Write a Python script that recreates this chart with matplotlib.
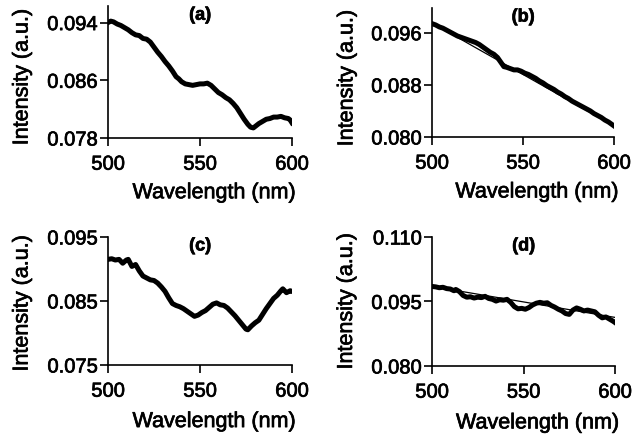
import matplotlib
matplotlib.use("Agg")
import matplotlib.pyplot as plt
import matplotlib.patheffects as pe
from matplotlib.text import Text

plt.rcParams["font.family"] = ["Liberation Sans", "DejaVu Sans"]

# Spectra (wavelength in nm, intensity in a.u.)
wl_a = [500, 501.5, 503, 505, 507, 509, 511, 513, 515, 517, 519, 521, 523, 525, 527,
        529, 531, 533, 535, 537, 538.5, 540, 542, 544, 546, 548, 550, 552, 554, 556,
        558, 560, 562, 564, 566, 568, 570, 572, 574, 576, 577.5, 579, 580.5, 582, 584,
        586, 588, 590, 592, 594, 596, 598, 599, 600]
int_a = [0.0940, 0.0942, 0.0941, 0.0938, 0.0936, 0.0933, 0.0930, 0.0926, 0.0923, 0.0922,
         0.0918, 0.0917, 0.0913, 0.0906, 0.0899, 0.0893, 0.0886, 0.0880, 0.0873, 0.0865,
         0.0862, 0.0858, 0.0855, 0.0854, 0.0853, 0.0854, 0.0855, 0.0855, 0.0856, 0.0853,
         0.0848, 0.0843, 0.0840, 0.0836, 0.0833, 0.0828, 0.0822, 0.0814, 0.0806, 0.0799,
         0.0795, 0.0794, 0.0797, 0.0800, 0.0803, 0.0806, 0.0807, 0.0809, 0.0809, 0.0810,
         0.0808, 0.0807, 0.0805, 0.0801]

wl_b = [500, 502, 504, 506, 508, 510, 512, 514, 516, 518, 520, 522, 524, 526, 528, 530,
        532, 534, 536, 538, 539.5, 541, 543, 545, 547, 549, 551, 553, 555, 557, 559, 561,
        563, 565, 567, 569, 571, 573, 575, 577, 579, 581, 583, 585, 587, 589, 591, 593,
        595, 597, 599, 600]
int_b = [0.0974, 0.0972, 0.0969, 0.0967, 0.0964, 0.0961, 0.0958, 0.0955, 0.0953, 0.0951,
         0.0949, 0.0947, 0.0945, 0.0942, 0.0938, 0.0934, 0.0930, 0.0927, 0.0922, 0.0914,
         0.0908, 0.0907, 0.0905, 0.0903, 0.0903, 0.0901, 0.0898, 0.0896, 0.0893, 0.0890,
         0.0886, 0.0883, 0.0879, 0.0876, 0.0873, 0.0869, 0.0866, 0.0862, 0.0859, 0.0855,
         0.0852, 0.0849, 0.0846, 0.0843, 0.0840, 0.0836, 0.0833, 0.0830, 0.0826, 0.0823,
         0.0819, 0.0817]

wl_c = [500, 502, 504, 506, 508, 510, 511, 513, 515, 517, 519, 521, 523, 525, 527, 529,
        531, 533, 535, 537, 539, 541, 543, 545, 547, 549, 551, 553, 555, 557, 559, 561,
        563, 565, 567, 569, 571, 573, 575, 576, 578, 580, 582, 584, 586, 588, 590, 592,
        594, 595, 597, 599, 600]
int_c = [0.0915, 0.0916, 0.0914, 0.0915, 0.0909, 0.0914, 0.0915, 0.0904, 0.0907, 0.0897,
         0.0889, 0.0886, 0.0883, 0.0882, 0.0878, 0.0872, 0.0865, 0.0855, 0.0846, 0.0843,
         0.0841, 0.0838, 0.0834, 0.0830, 0.0826, 0.0828, 0.0832, 0.0835, 0.0840, 0.0845,
         0.0847, 0.0844, 0.0843, 0.0839, 0.0833, 0.0827, 0.0820, 0.0813, 0.0806, 0.0805,
         0.0811, 0.0816, 0.0820, 0.0829, 0.0838, 0.0846, 0.0854, 0.0859, 0.0866, 0.0869,
         0.0863, 0.0866, 0.0865]

wl_d = [500, 502, 504, 506, 508, 510, 512, 513, 515, 517, 519, 521, 523, 525, 527, 529,
        531, 533, 535, 537, 539, 541, 543, 545, 547, 549, 551, 553, 555, 557, 559, 561,
        563, 565, 567, 569, 571, 573, 575, 577, 579, 581, 583, 585, 587, 589, 591, 593,
        595, 597, 599, 600]
int_d = [0.0985, 0.0984, 0.0982, 0.0983, 0.0980, 0.0979, 0.0975, 0.0978, 0.0973, 0.0964,
         0.0960, 0.0961, 0.0958, 0.0960, 0.0959, 0.0962, 0.0957, 0.0955, 0.0951, 0.0954,
         0.0953, 0.0955, 0.0948, 0.0938, 0.0933, 0.0934, 0.0932, 0.0936, 0.0942, 0.0946,
         0.0948, 0.0946, 0.0947, 0.0941, 0.0937, 0.0932, 0.0928, 0.0922, 0.0920, 0.0930,
         0.0935, 0.0932, 0.0928, 0.0930, 0.0928, 0.0926, 0.0918, 0.0912, 0.0914, 0.0909,
         0.0904, 0.0901]

# Linear trend lines
fit_wl = [500, 600]
fit_b = [0.0975, 0.0817]
fit_d = [0.0985, 0.0913]

x_ticks = [500, 550, 600]
yticks_a = [0.078, 0.086, 0.094]
yticks_b = [0.080, 0.088, 0.096]
yticks_c = [0.075, 0.085, 0.095]
yticks_d = [0.080, 0.095, 0.110]

# tag, x, y, fit, y ticks, y limits, axes rect, xlabel y, ylabel (x, y)
panels = [
    ("(a)", wl_a, int_a, None, yticks_a, (0.078, 0.0963),
     [0.1677, 0.6842, 0.2857, 0.3021], -0.335, (-0.41, 0.46)),
    ("(b)", wl_b, int_b, fit_b, yticks_b, (0.080, 0.0998),
     [0.6708, 0.6865, 0.2826, 0.2952], -0.345, (-0.41, 0.455)),
    ("(c)", wl_c, int_c, None, yticks_c, (0.075, 0.095),
     [0.1677, 0.1648, 0.2857, 0.2929], -0.36, (-0.41, 0.48)),
    ("(d)", wl_d, int_d, fit_d, yticks_d, (0.080, 0.110),
     [0.6708, 0.1625, 0.2842, 0.2952], -0.36, (-0.41, 0.50)),
]

fig = plt.figure(figsize=(6.44, 4.37), dpi=100)

for tag, wl, inten, fit, yt, ylim, rect, xl_y, yl_xy in panels:
    ax = fig.add_axes(rect)
    if fit is not None:
        ax.plot(fit_wl, fit, color="black", lw=0.9, zorder=3)
    ax.plot(wl, inten, color="black", lw=3.6, zorder=2)
    ax.set_xlim(500, 600)
    ax.set_ylim(*ylim)
    ax.set_xticks(x_ticks)
    ax.set_yticks(yt)
    ax.set_yticklabels([f"{v:.3f}" for v in yt])
    for s in ("top", "right"):
        ax.spines[s].set_visible(False)
    for s in ("left", "bottom"):
        ax.spines[s].set_linewidth(1.2)
    ax.tick_params(axis="x", direction="out", length=5.5, width=1.2,
                   labelsize=14.5, pad=6.5)
    ax.tick_params(axis="y", direction="out", length=5.5, width=1.2,
                   labelsize=14.5, pad=2)
    ax.set_xlabel("Wavelength (nm)", fontsize=15.5)
    ax.set_ylabel("Intensity (a.u.)", fontsize=15.5)
    ax.xaxis.set_label_coords(0.575, xl_y)
    ax.yaxis.set_label_coords(*yl_xy)
    ax.text(0.5, 0.93, tag, transform=ax.transAxes, ha="center", va="center",
            fontsize=13, fontweight="bold")

# slightly heavier glyph strokes
for t in fig.findobj(Text):
    t.set_path_effects([pe.withStroke(linewidth=0.5, foreground="black")])

fig.savefig("out.png", dpi=100)
